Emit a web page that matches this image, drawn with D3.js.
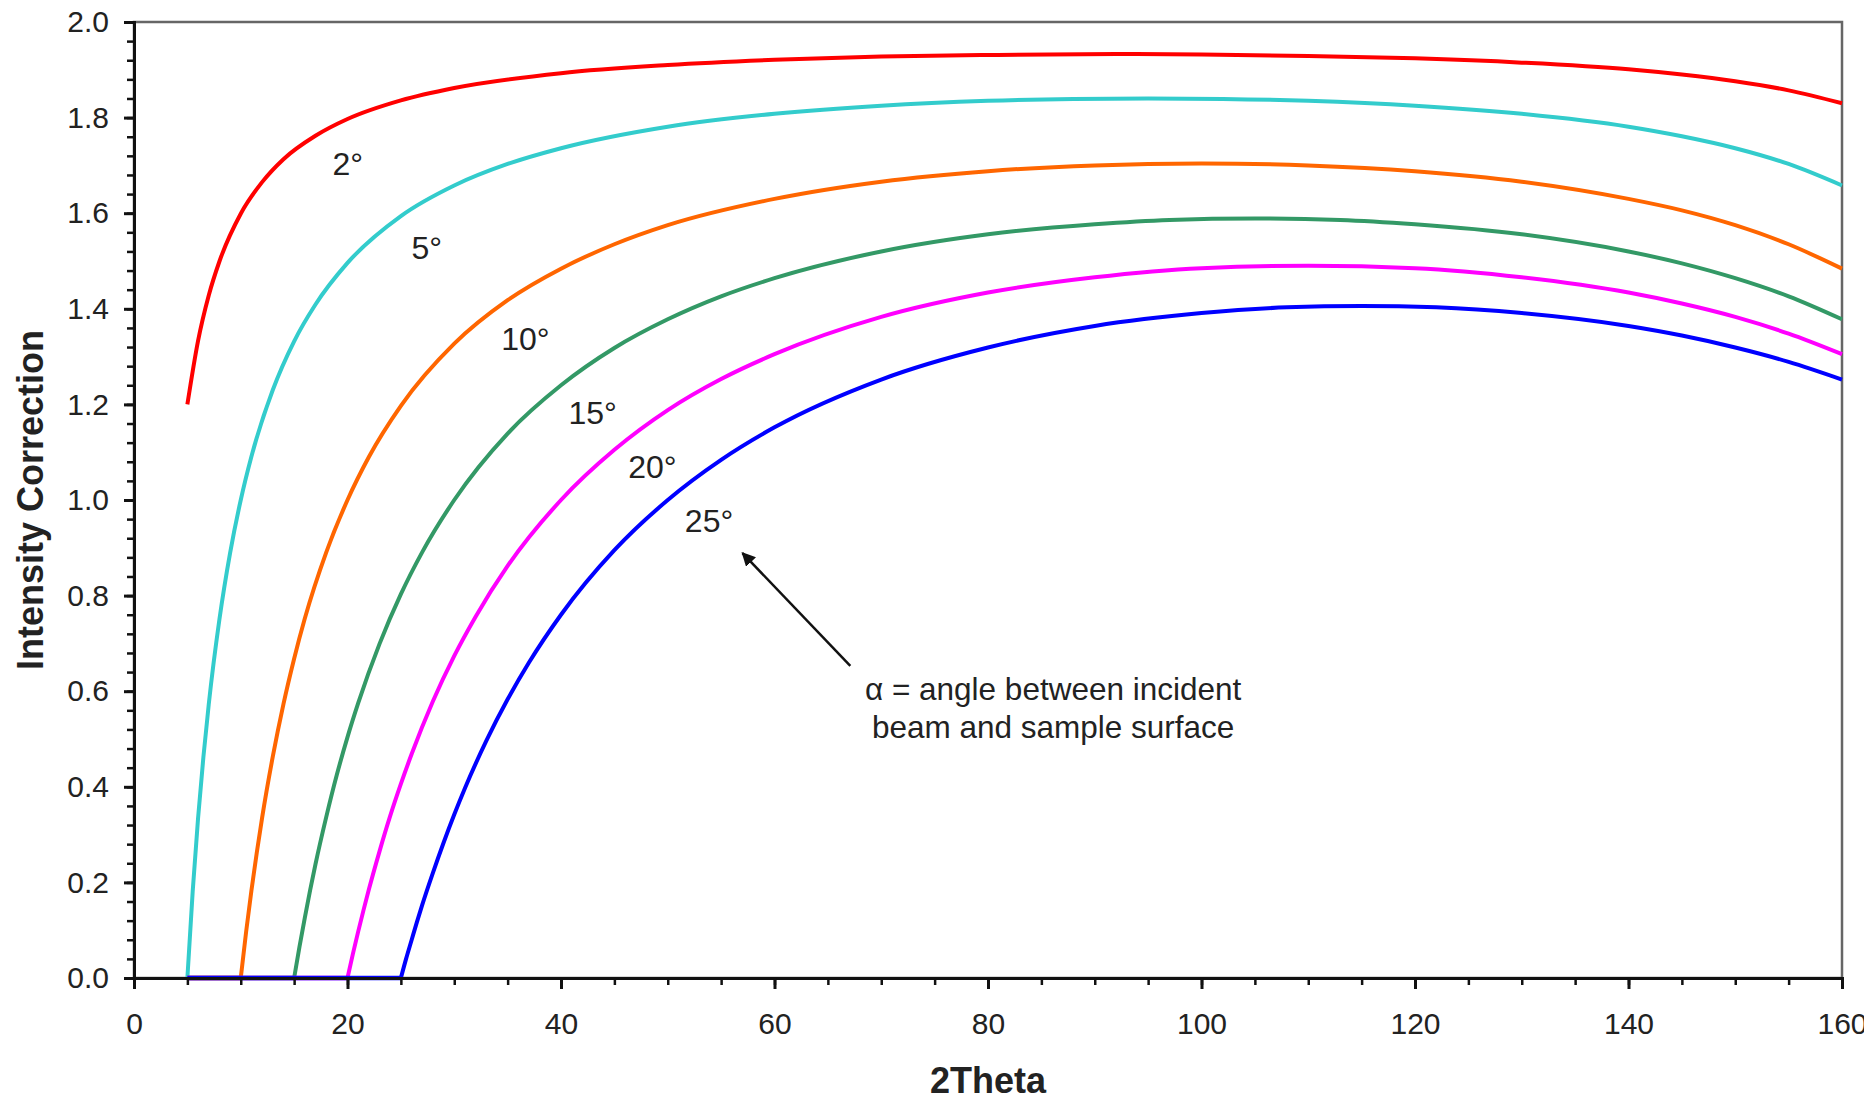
<!DOCTYPE html>
<html>
<head>
<meta charset="utf-8">
<script src="https://cdn.jsdelivr.net/npm/d3@7"></script>
<style>
  body { margin: 0; background: #fff; }
  text { font-family: "Liberation Sans", Arial, sans-serif; fill: #222; }
</style>
</head>
<body>
<div id="chart"></div>
<script>
// 2theta sample points and intensity correction, one pair of arrays per incidence angle
const theta02 = [5, 6, 7, 8, 10, 12, 14, 17, 20, 25, 30, 40, 50, 60, 70, 80, 92, 100, 110, 120, 130, 140, 145, 150, 155, 160];
const corr02 = [1.200, 1.333, 1.428, 1.499, 1.599, 1.665, 1.713, 1.762, 1.797, 1.836, 1.862, 1.893, 1.910, 1.921, 1.928, 1.931, 1.933, 1.932, 1.929, 1.924, 1.915, 1.901, 1.890, 1.876, 1.857, 1.830];

const theta05 = [5, 5.5, 6, 6.5, 7, 8, 9, 10, 11, 13, 15, 17, 20, 25, 30, 35, 40, 50, 60, 70, 80, 88, 95, 102, 110, 120, 130, 140, 145, 150, 155, 160];
const corr05 = [0, 0.182, 0.334, 0.462, 0.572, 0.750, 0.889, 1.000, 1.091, 1.230, 1.332, 1.409, 1.496, 1.594, 1.658, 1.703, 1.736, 1.781, 1.808, 1.825, 1.835, 1.839, 1.840, 1.839, 1.835, 1.825, 1.808, 1.781, 1.761, 1.736, 1.703, 1.658];

const theta10 = [5, 10, 10.5, 11, 11.5, 12, 13, 14, 15, 16, 18, 20, 22, 25, 30, 35, 40, 45, 50, 60, 70, 80, 90, 100, 110, 120, 130, 140, 145, 150, 155, 160];
const corr10 = [0, 0, 0.096, 0.183, 0.262, 0.335, 0.463, 0.573, 0.668, 0.752, 0.890, 1.000, 1.090, 1.197, 1.327, 1.418, 1.484, 1.535, 1.575, 1.630, 1.666, 1.688, 1.700, 1.704, 1.700, 1.688, 1.666, 1.630, 1.606, 1.575, 1.535, 1.484];

const theta15 = [5, 15, 15.5, 16, 16.5, 17, 18, 19, 20, 21, 23, 25, 27, 30, 35, 40, 45, 50, 55, 60, 70, 80, 90, 97, 105, 113, 120, 130, 140, 145, 150, 155, 160];
const corr15 = [0, 0, 0.065, 0.126, 0.184, 0.238, 0.336, 0.425, 0.504, 0.575, 0.699, 0.803, 0.891, 1.000, 1.139, 1.240, 1.318, 1.378, 1.426, 1.464, 1.520, 1.556, 1.577, 1.586, 1.589, 1.586, 1.577, 1.556, 1.520, 1.495, 1.464, 1.426, 1.378];

const theta20 = [5, 20, 20.5, 21, 21.5, 22, 23, 24, 25, 26, 28, 30, 32, 35, 40, 45, 50, 55, 60, 70, 80, 90, 100, 110, 120, 130, 140, 145, 150, 155, 160];
const corr20 = [0, 0, 0.050, 0.097, 0.142, 0.185, 0.265, 0.339, 0.406, 0.468, 0.579, 0.674, 0.756, 0.862, 1.000, 1.105, 1.188, 1.253, 1.305, 1.383, 1.434, 1.466, 1.485, 1.490, 1.485, 1.466, 1.434, 1.411, 1.383, 1.348, 1.305];

const theta25 = [5, 25, 25.5, 26, 26.5, 27, 28, 29, 30, 31, 33, 35, 37, 40, 45, 50, 55, 60, 70, 80, 90, 100, 108, 115, 122, 130, 140, 145, 150, 155, 160];
const corr25 = [0, 0, 0.041, 0.079, 0.117, 0.153, 0.220, 0.283, 0.342, 0.397, 0.496, 0.583, 0.660, 0.760, 0.895, 1.000, 1.084, 1.152, 1.252, 1.319, 1.364, 1.391, 1.403, 1.406, 1.403, 1.391, 1.364, 1.344, 1.319, 1.289, 1.252];

const seriesTheta = [theta02, theta05, theta10, theta15, theta20, theta25];
const seriesCorr = [corr02, corr05, corr10, corr15, corr20, corr25];
const seriesColors = ["#ff0000", "#33cccc", "#ff6600", "#339966", "#ff00ff", "#0000ff"];

// curve labels (text, 2theta, correction at baseline-left)
const labelText = ["2°", "5°", "10°", "15°", "20°", "25°"];
const labelTheta = [18.6, 26.0, 34.4, 40.7, 46.3, 51.6];
const labelCorr = [1.680, 1.504, 1.314, 1.159, 1.046, 0.933];

const xTicks = [0, 20, 40, 60, 80, 100, 120, 140, 160];
const yTicks = [0, 0.2, 0.4, 0.6, 0.8, 1.0, 1.2, 1.4, 1.6, 1.8, 2.0];

const noteLines = ["α = angle between incident", "beam and sample surface"];
const noteTheta = 86.1;
const noteCorr = [0.582, 0.502];
const arrowFrom = [67.1, 0.653];
const arrowTo = [57.0, 0.889];

const width = 1864, height = 1100;
const margin = { left: 134, top: 22, right: 22, bottom: 122 };
const chartWidth = width - margin.left - margin.right;
const chartHeight = height - margin.top - margin.bottom;

const svg = d3.select("#chart").append("svg")
  .attr("width", width)
  .attr("height", height);

const g = svg.append("g")
  .attr("transform", `translate(${margin.left}, ${margin.top})`);

const x = d3.scaleLinear().domain([0, 160]).range([0, chartWidth]);
const y = d3.scaleLinear().domain([0, 2]).range([chartHeight, 0]);

// frame (top and right are grey)
g.append("rect")
  .attr("width", chartWidth)
  .attr("height", chartHeight)
  .attr("fill", "none")
  .attr("stroke", "#666")
  .attr("stroke-width", 2.5);

const line = d3.line()
  .x(d => x(d[0]))
  .y(d => y(d[1]))
  .curve(d3.curveMonotoneX);

seriesTheta.forEach((th, i) => {
  const pts = th.map((t, j) => [t, seriesCorr[i][j]]);
  // flat zero run drawn straight, rising part drawn smooth
  let lastZero = -1;
  pts.forEach((p, j) => { if (p[1] === 0) lastZero = j; });
  if (lastZero > 0) {
    g.append("path")
      .attr("d", d3.line().x(d => x(d[0])).y(d => y(d[1]))(pts.slice(0, lastZero + 1)))
      .attr("fill", "none")
      .attr("stroke", seriesColors[i])
      .attr("stroke-width", 4.5);
  }
  g.append("path")
    .attr("d", line(pts.slice(Math.max(lastZero, 0))))
    .attr("fill", "none")
    .attr("stroke", seriesColors[i])
    .attr("stroke-width", 4);
});

// axes
const xAxis = g.append("g")
  .attr("transform", `translate(0, ${chartHeight})`)
  .call(d3.axisBottom(x).tickValues(d3.range(0, 161, 5)).tickSize(7).tickFormat(""));
xAxis.select(".domain").remove();
xAxis.selectAll("line").attr("stroke", "#111").attr("stroke-width", 2.5);

const xMajor = g.append("g")
  .attr("transform", `translate(0, ${chartHeight})`)
  .call(d3.axisBottom(x).tickValues(xTicks).tickSize(11).tickPadding(24).tickFormat(d3.format("d")));
xMajor.select(".domain").attr("stroke", "#111").attr("stroke-width", 3);
xMajor.selectAll("line").attr("stroke", "#111").attr("stroke-width", 3);
xMajor.selectAll("text").style("font-size", "30px").attr("fill", "#222");

const yMinor = g.append("g")
  .call(d3.axisLeft(y).tickValues(d3.range(0, 51).map(d => d * 0.04)).tickSize(7).tickFormat(""));
yMinor.select(".domain").remove();
yMinor.selectAll("line").attr("stroke", "#111").attr("stroke-width", 2.5);

const yMajor = g.append("g")
  .call(d3.axisLeft(y).tickValues(yTicks).tickSize(10).tickPadding(15).tickFormat(d3.format(".1f")));
yMajor.select(".domain").attr("stroke", "#111").attr("stroke-width", 3);
yMajor.selectAll("line").attr("stroke", "#111").attr("stroke-width", 3);
yMajor.selectAll("text").style("font-size", "30px").attr("fill", "#222");

// axis titles
svg.append("text")
  .attr("x", margin.left + chartWidth / 2)
  .attr("y", 1093)
  .attr("text-anchor", "middle")
  .style("font-size", "36px")
  .style("font-weight", "bold")
  .text("2Theta");

svg.append("text")
  .attr("transform", `translate(43, ${margin.top + chartHeight / 2}) rotate(-90)`)
  .attr("text-anchor", "middle")
  .style("font-size", "36px")
  .style("font-weight", "bold")
  .text("Intensity Correction");

// curve labels
g.selectAll(".curve-label")
  .data(labelText)
  .enter()
  .append("text")
  .attr("class", "curve-label")
  .attr("x", (d, i) => x(labelTheta[i]))
  .attr("y", (d, i) => y(labelCorr[i]))
  .style("font-size", "32px")
  .text(d => d);

// note and arrow
svg.append("defs").append("marker")
  .attr("id", "head")
  .attr("viewBox", "0 0 10 10")
  .attr("refX", 9)
  .attr("refY", 5)
  .attr("markerWidth", 5.5)
  .attr("markerHeight", 5.5)
  .attr("orient", "auto")
  .append("path")
  .attr("d", "M0,0 L10,5 L0,10 Z")
  .attr("fill", "#111");

g.append("line")
  .attr("x1", x(arrowFrom[0]))
  .attr("y1", y(arrowFrom[1]))
  .attr("x2", x(arrowTo[0]))
  .attr("y2", y(arrowTo[1]))
  .attr("stroke", "#111")
  .attr("stroke-width", 2.5)
  .attr("marker-end", "url(#head)");

g.selectAll(".note")
  .data(noteLines)
  .enter()
  .append("text")
  .attr("class", "note")
  .attr("x", x(noteTheta))
  .attr("y", (d, i) => y(noteCorr[i]))
  .attr("text-anchor", "middle")
  .style("font-size", "31.5px")
  .text(d => d);
</script>
</body>
</html>
